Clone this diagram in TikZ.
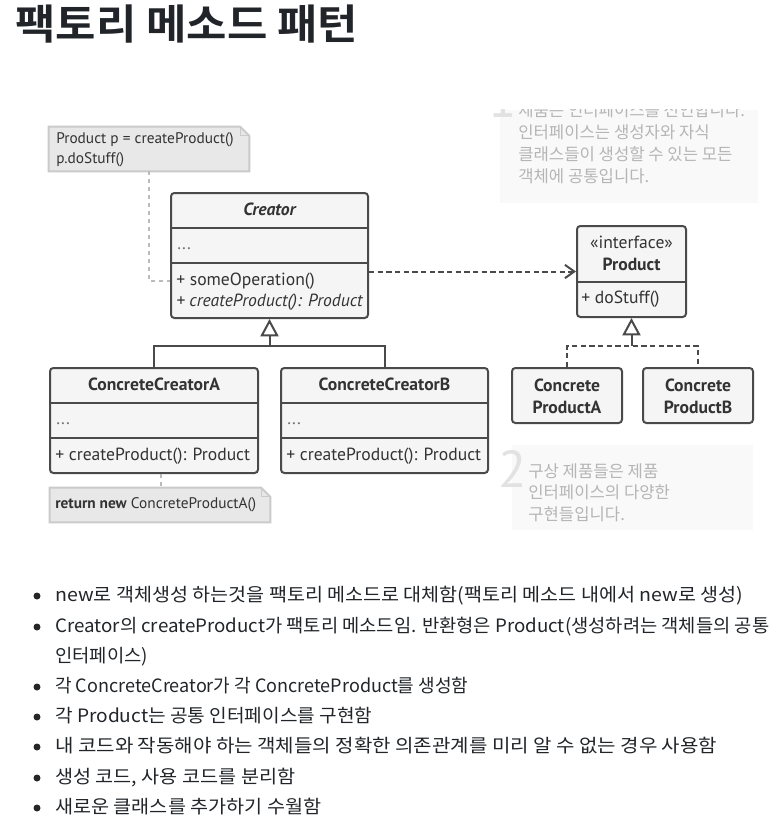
\documentclass[tikz,border=0pt]{standalone}
\usepackage{fontspec}
\usepackage{graphicx}
\setmainfont{PT Sans}
\newfontfamily\kr[BoldFont={Noto Sans CJK KR Bold}]{Noto Sans CJK KR}
\usetikzlibrary{arrows.meta,fit}
\definecolor{cline}{HTML}{4A4A4A}
\definecolor{cfill}{HTML}{F5F5F5}
\definecolor{ctext}{HTML}{333333}
\definecolor{notefill}{HTML}{E8E8E8}
\definecolor{noteline}{HTML}{CACACA}
\definecolor{notelk}{HTML}{BBBBBB}
\definecolor{fadebg}{HTML}{F9F9F9}
\definecolor{fadetext}{HTML}{B5B5B5}
\definecolor{fadenum}{HTML}{E2E2E2}
\definecolor{titlec}{HTML}{212529}
\newcommand\umlfont{\fontsize{13.2}{16.5}\selectfont}
\newcommand\notefont{\fontsize{11.5}{13.5}\selectfont}
\newcommand\fitw[2]{\resizebox{#1}{\height}{#2}}
\begin{document}
\begin{tikzpicture}[x=0.75pt,y=-0.75pt,
  classbox/.style={draw=cline, fill=cfill, line width=1.5pt, rounded corners=2.5pt, inner sep=0pt},
  divl/.style={draw=cline, line width=1.5pt},
  umlc/.style={inner sep=0pt, text=ctext, font=\umlfont, text height=9.4pt, text depth=2.6pt},
  umll/.style={umlc, anchor=west},
  notebox/.style={draw=noteline, fill=notefill, line width=1.5pt},
  notetext/.style={inner sep=0pt, anchor=west, text=ctext, font=\notefont, text height=8.2pt, text depth=2.4pt},
  notelink/.style={draw=notelk, line width=1.1pt, dash pattern=on 3pt off 3pt},
  gen/.style={draw=cline, line width=1.5pt},
  real/.style={draw=cline, line width=1.5pt, dash pattern=on 4pt off 2.5pt},
  tri/.style={-{Triangle[length=13pt, width=13.5pt, fill=white, line width=1.5pt]}},
  dep/.style={draw=cline, line width=1.5pt, dash pattern=on 4pt off 2.5pt, -{Straight Barb[length=7pt, width=10pt, line width=1.5pt]}},
  fadebox/.style={fill=fadebg, draw=none, inner sep=0pt},
  fadetxt/.style={inner sep=0pt, anchor=west, text=fadetext, font=\kr\fontsize{12.5}{14}\selectfont, text height=0.88em, text depth=0.12em},
  fadenumst/.style={inner sep=0pt, anchor=base, text=fadenum, font=\fontsize{39}{40}\selectfont},
  bulletdot/.style={circle, fill=black!85, inner sep=0pt, minimum size=5.25pt},
  bultxt/.style={inner sep=0pt, anchor=west, text=titlec, font=\kr\fontsize{13.8}{16}\selectfont, text height=0.88em, text depth=0.12em},
]
\useasboundingbox (0,0) rectangle (777,825);

% title
\node[inner sep=0pt, anchor=west, text=titlec, font=\kr\bfseries\fontsize{31}{35}\selectfont, text height=0.88em, text depth=0.12em] (title) at (15,34) {\fitw{257.25pt}{팩토리 메소드 패턴}};

% faded explanation 1
\node[fadebox, fit={(500,110)(758,203)}] (fade1) {};
\begin{scope}
\clip (480,109) rectangle (777,210);
\node[fadenumst] (num1) at (503,117) {1};
\node[fadetxt] (f1l1) at (518,111) {제품은 인터페이스를 선언합니다.};
\end{scope}
\node[fadetxt] (f1l2) at (518,133) {인터페이스는 생성자와 자식};
\node[fadetxt] (f1l3) at (518,155) {클래스들이 생성할 수 있는 모든};
\node[fadetxt] (f1l4) at (518,177) {객체에 공통입니다.};

% faded explanation 2
\node[fadebox, fit={(512,445)(753,530)}] (fade2) {};
\node[fadenumst] (num2) at (513,487) {2};
\node[fadetxt] (f2l1) at (528,472) {구상 제품들은 제품};
\node[fadetxt] (f2l2) at (528,493) {인터페이스의 다양한};
\node[fadetxt] (f2l3) at (528,515) {구현들입니다.};

% note 1
\node[inner sep=0pt, fit={(49,127)(249,171)}] (note1) {};
\draw[notebox] (note1.north west) -- ([xshift=-6.75pt]note1.north east) -- ([yshift=-6.75pt]note1.north east) -- (note1.south east) -- (note1.south west) -- cycle;
\draw[draw=noteline, line width=1.1pt] ([xshift=-6.75pt]note1.north east) -- ([xshift=-6.75pt,yshift=-6.75pt]note1.north east) -- ([yshift=-6.75pt]note1.north east);
\node[notetext] (note1a) at (56,140) {Product p = createProduct()};
\node[notetext] (note1b) at (56,160) {p.doStuff()};

% Creator
\node[classbox, fit={(171,193)(368,318)}] (creator) {};
\draw[divl] (171,228) -- (368,228);
\draw[divl] (171,263) -- (368,263);
\node[umlc, font=\umlfont\bfseries\itshape] (creatorname) at (269.5,211) {Creator};
\node[umll, text=black!55] (creatorattr) at (177,245) {...};
\node[umll] (creatorop1) at (176,281) {+ someOperation()};
\node[umll, font=\umlfont\itshape] (creatorop2) at (176,302) {+ createProduct(): Product};

% Product
\node[classbox, fit={(577,226)(686,317)}] (product) {};
\draw[divl] (577,282) -- (686,282);
\node[umlc] (productst) at (631.5,244) {«interface»};
\node[umlc, font=\umlfont\bfseries] (productname) at (631.5,266) {Product};
\node[umll] (productop) at (581,299) {+ doStuff()};

% ConcreteCreatorA
\node[classbox, fit={(50,368)(258,473)}] (cca) {};
\draw[divl] (50,403) -- (258,403);
\draw[divl] (50,438) -- (258,438);
\node[umlc, font=\umlfont\bfseries] (ccaname) at (154,386) {ConcreteCreatorA};
\node[umll, text=black!55] (ccaattr) at (56,420) {...};
\node[umll] (ccaop) at (55,456) {+ createProduct(): Product};

% ConcreteCreatorB
\node[classbox, fit={(281,368)(488,473)}] (ccb) {};
\draw[divl] (281,403) -- (488,403);
\draw[divl] (281,438) -- (488,438);
\node[umlc, font=\umlfont\bfseries] (ccbname) at (384.5,386) {ConcreteCreatorB};
\node[umll, text=black!55] (ccbattr) at (287,420) {...};
\node[umll] (ccbop) at (286,456) {+ createProduct(): Product};

% Concrete products
\node[classbox, fit={(512,368)(622,423)}] (cpa) {};
\node[umlc, font=\umlfont\bfseries, align=center, text height=, text depth=] (cpaname) at (567,396) {Concrete\\ProductA};
\node[classbox, fit={(643,368)(753,423)}] (cpb) {};
\node[umlc, font=\umlfont\bfseries, align=center, text height=, text depth=] (cpbname) at (698,396) {Concrete\\ProductB};

% note 2
\node[inner sep=0pt, fit={(50,488)(270,522)}] (note2) {};
\draw[notebox] (note2.north west) -- ([xshift=-6.75pt]note2.north east) -- ([yshift=-6.75pt]note2.north east) -- (note2.south east) -- (note2.south west) -- cycle;
\draw[draw=noteline, line width=1.1pt] ([xshift=-6.75pt]note2.north east) -- ([xshift=-6.75pt,yshift=-6.75pt]note2.north east) -- ([yshift=-6.75pt]note2.north east);
\node[notetext] (note2a) at (55,505) {\textbf{return new} ConcreteProductA()};

% connectors
\draw[notelink] (note1.south) |- (creator.west |- creatorop1.west);
\coordinate (n2top) at (161,488);
\draw[notelink] (n2top |- cca.south) -- (n2top);
\draw[dep] (product.west -| creator.east) -- (product.west);
\coordinate (j1) at (269.5,346);
\draw[gen] (cca.north) |- (j1) -| (ccb.north);
\draw[gen, tri] (j1) -- (creator.south);
\coordinate (j2) at (631.5,346);
\draw[real] (cpa.north) |- (j2) -| (cpb.north);
\draw[gen, tri] (j2) -- (product.south);

% bullets
\node[bulletdot] (d1) at (37,596) {};
\node[bultxt] (t1) at (55,596) {\fitw{516pt}{new로 객체생성 하는것을 팩토리 메소드로 대체함(팩토리 메소드 내에서 new로 생성)}};
\node[bulletdot] (d2) at (37,627) {};
\node[bultxt] (t2) at (55,627) {\fitw{535.5pt}{Creator의 createProduct가 팩토리 메소드임. 반환형은 Product(생성하려는 객체들의 공통}};
\node[bultxt] (t2b) at (55,657) {\fitw{69.75pt}{인터페이스)}};
\node[bulletdot] (d3) at (37,687) {};
\node[bultxt] (t3) at (55,687) {\fitw{309.75pt}{각 ConcreteCreator가 각 ConcreteProduct를 생성함}};
\node[bulletdot] (d4) at (37,717) {};
\node[bultxt] (t4) at (55,717) {\fitw{237.75pt}{각 Product는 공통 인터페이스를 구현함}};
\node[bulletdot] (d5) at (37,747) {};
\node[bultxt] (t5) at (55,747) {\fitw{496.5pt}{내 코드와 작동해야 하는 객체들의 정확한 의존관계를 미리 알 수 없는 경우 사용함}};
\node[bulletdot] (d6) at (37,778) {};
\node[bultxt] (t6) at (55,778) {\fitw{180pt}{생성 코드, 사용 코드를 분리함}};
\node[bulletdot] (d7) at (37,808) {};
\node[bultxt] (t7) at (55,808) {\fitw{199.5pt}{새로운 클래스를 추가하기 수월함}};
\end{tikzpicture}
\end{document}
